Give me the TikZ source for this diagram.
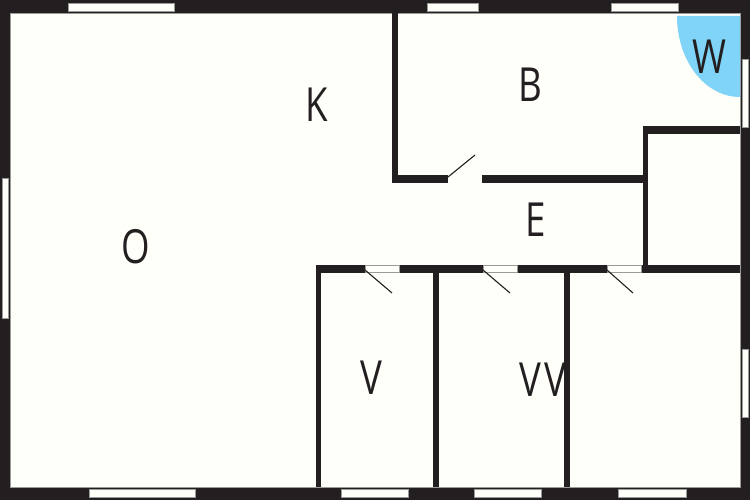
\documentclass[tikz,border=0pt]{standalone}
\usepackage{fontspec}
\setmainfont{Open Sans}
\definecolor{wallc}{HTML}{231F20}
\definecolor{roomc}{HTML}{FFFFFA}
\definecolor{wetc}{HTML}{80D4F8}
\definecolor{edgec}{HTML}{9A9A98}
\tikzset{
  wall/.style={fill=wallc,draw=none},
  window/.style={fill=roomc,draw=edgec,line width=.5pt},
  doorgap/.style={fill=roomc,draw=edgec,line width=.4pt},
  leaf/.style={draw=wallc,line width=1.1pt},
  roomlabel/.style={text=wallc,font=\fontsize{47}{47}\selectfont,inner sep=0pt,xscale=.78}
}
\begin{document}
\begin{tikzpicture}[x=1pt,y=-1pt]
\useasboundingbox (0,0) rectangle (750,500);
% outer walls and floor
\fill[wallc] (0,0) rectangle (750,500);
\filldraw[fill=roomc,draw=edgec,line width=.6pt] (10,13) rectangle (740,487);
% wet room
\fill[wetc] (677,16) .. controls (677,61) and (705,97) .. (740,97) -- (740,16) -- cycle;
% interior walls
\fill[wall] (391.8,13) rectangle (397.6,183.5);
\fill[wall] (391.8,175.5) rectangle (448,183.5);
\fill[wall] (482,175.5) rectangle (648.3,183.5);
\fill[wall] (642.7,126) rectangle (648.3,273);
\fill[wall] (642.7,126) rectangle (740,134);
\fill[wall] (315.7,265) rectangle (365,273);
\fill[wall] (399,265) rectangle (483,273);
\fill[wall] (517,265) rectangle (607,273);
\fill[wall] (641,265) rectangle (740,273);
\fill[wall] (315.7,265) rectangle (321.2,487);
\fill[wall] (433.3,265) rectangle (439.2,487);
\fill[wall] (564.3,265) rectangle (570.2,487);
% door openings
\draw[doorgap] (365,265.5) rectangle (399,272.5);
\draw[doorgap] (483,265.5) rectangle (517,272.5);
\draw[doorgap] (607,265.5) rectangle (641,272.5);
% door leaves
\draw[leaf] (448,177) -- (475,155);
\draw[leaf] (365,270) -- (392,293);
\draw[leaf] (483,270) -- (510,293);
\draw[leaf] (607,270) -- (633,293);
% windows
\draw[window] (68,3) rectangle (174,11);
\draw[window] (427,3) rectangle (478,11);
\draw[window] (611,3) rectangle (678,11);
\draw[window] (742,59) rectangle (748,127);
\draw[window] (742,349) rectangle (748,417);
\draw[window] (2,178) rectangle (8,318);
\draw[window] (89,489) rectangle (195,497);
\draw[window] (341,489) rectangle (408,497);
\draw[window] (474,489) rectangle (541,497);
\draw[window] (618,489) rectangle (686,497);
% labels
\node[roomlabel] (k) at (317,105) {K};
\node[roomlabel] (b) at (530,85) {B};
\node[roomlabel] (w) at (709,57) {W};
\node[roomlabel] (e) at (536,220) {E};
\node[roomlabel] (o) at (136,247) {O};
\node[roomlabel] (v) at (371,378) {V};
\node[roomlabel] (vv) at (543,380) {\addfontfeature{Kerning=Off}V\kern5pt V};
\end{tikzpicture}
\end{document}
